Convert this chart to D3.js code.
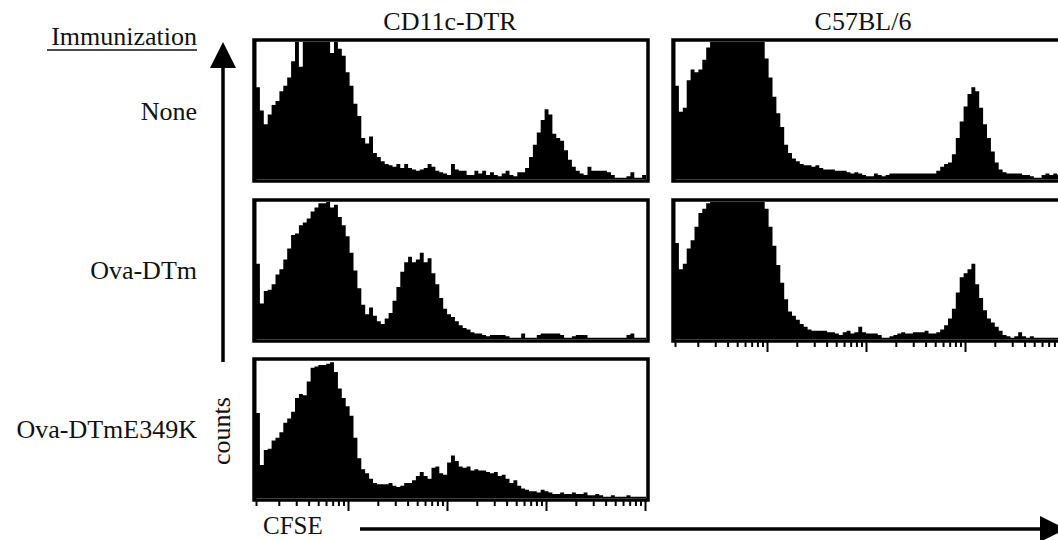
<!DOCTYPE html>
<html>
<head>
<meta charset="utf-8">
<script src="https://cdn.jsdelivr.net/npm/d3@7"></script>
<style>
  body { margin: 0; background: #fff; }
  svg { display: block; font-family: "Liberation Serif", "Times New Roman", serif; }
</style>
</head>
<body>
<div id="chart"></div>
<script>
const strains = ['CD11c-DTR', 'C57BL/6'];
const immunizations = ['None', 'Ova-DTm', 'Ova-DTmE349K'];

// CFSE histograms, 100 bins each, height as % of panel height (peaks run off scale at 100)
const dtrNone = [
  67, 50, 40, 47, 54, 57, 64, 68, 74, 86, 100, 82, 100, 100, 100, 100, 100, 100, 100, 92,
  100, 95, 90, 78, 68, 55, 46, 30, 26, 31, 19, 16, 13, 11, 10, 9, 11, 8, 11, 8,
  7, 6, 7, 8, 11, 9, 6, 5, 4, 3, 11, 7, 6, 6, 3, 3, 6, 4, 6, 3,
  5, 3, 2, 4, 6, 3, 2, 5, 5, 8, 16, 25, 34, 43, 51, 47, 33, 30, 28, 21,
  14, 9, 6, 4, 3, 9, 6, 6, 6, 6, 5, 3, 1, 1, 1, 2, 5, 1, 1, 3
];
const b6None = [
  68, 49, 52, 72, 80, 78, 80, 87, 96, 100, 100, 100, 100, 100, 100, 100, 100, 100, 100, 100,
  100, 100, 100, 88, 74, 60, 48, 38, 25, 19, 15, 13, 11, 10, 10, 9, 10, 8, 7, 7,
  7, 6, 6, 6, 5, 4, 5, 4, 3, 2, 2, 4, 3, 2, 3, 4, 4, 4, 4, 4,
  4, 4, 4, 4, 4, 4, 4, 6, 9, 11, 12, 18, 30, 42, 53, 62, 67, 64, 52, 40,
  30, 20, 12, 7, 5, 4, 4, 4, 4, 3, 3, 2, 1, 1, 3, 4, 3, 4, 3, 3
];
const dtrOvaDTm = [
  55, 26, 35, 36, 40, 47, 51, 58, 66, 76, 77, 83, 85, 88, 93, 96, 99, 99, 100, 96,
  98, 89, 83, 75, 63, 50, 37, 25, 18, 23, 17, 13, 11, 15, 19, 28, 38, 49, 56, 60,
  56, 58, 63, 56, 59, 48, 40, 30, 22, 18, 16, 13, 10, 8, 7, 5, 4, 4, 3, 2,
  3, 3, 3, 3, 2, 1, 1, 1, 4, 1, 1, 1, 3, 4, 4, 4, 4, 4, 3, 1,
  1, 2, 3, 3, 3, 1, 1, 1, 1, 1, 1, 1, 1, 1, 1, 3, 4, 1, 1, 1
];
const b6OvaDTm = [
  70, 51, 55, 66, 72, 82, 92, 95, 99, 100, 100, 100, 100, 100, 100, 100, 100, 100, 100, 100,
  100, 100, 100, 95, 82, 68, 54, 41, 29, 20, 17, 14, 11, 9, 7, 6, 6, 6, 6, 5,
  5, 4, 3, 5, 6, 4, 5, 9, 5, 4, 4, 4, 3, 1, 1, 2, 3, 4, 5, 4,
  4, 5, 5, 5, 6, 4, 4, 5, 7, 10, 15, 22, 34, 45, 48, 51, 55, 40, 30, 21,
  15, 12, 9, 6, 3, 2, 1, 2, 5, 2, 1, 2, 1, 1, 1, 1, 1, 1, 1, 1
];
const dtrOvaDTmE349K = [
  62, 24, 35, 36, 42, 44, 48, 55, 58, 63, 73, 76, 75, 85, 95, 96, 97, 97, 98, 99,
  92, 80, 73, 67, 60, 44, 29, 21, 18, 14, 11, 10, 10, 10, 11, 9, 8, 9, 11, 11,
  13, 16, 19, 16, 14, 22, 23, 18, 17, 26, 31, 27, 23, 22, 23, 20, 21, 20, 20, 19,
  18, 19, 16, 17, 14, 11, 13, 9, 7, 6, 5, 5, 4, 6, 5, 4, 3, 3, 4, 3,
  3, 4, 3, 3, 4, 2, 2, 3, 2, 1, 1, 2, 1, 1, 1, 2, 1, 1, 1, 1
];

const width = 1058, height = 540;
const panelW = 394, panelH = 141;
const colX = [254, 673];
const rowY = [40, 200, 359];
const font = 26;

const svg = d3.select('#chart').append('svg')
  .attr('width', width)
  .attr('height', height);

const panels = [
  { values: dtrNone, col: 0, row: 0, ticks: false },
  { values: b6None, col: 1, row: 0, ticks: false },
  { values: dtrOvaDTm, col: 0, row: 1, ticks: false },
  { values: b6OvaDTm, col: 1, row: 1, ticks: true },
  { values: dtrOvaDTmE349K, col: 0, row: 2, ticks: true }
];

panels.forEach(p => drawPanel(p.values, colX[p.col], rowY[p.row], p.ticks));

function drawPanel(values, x0, y0, withTicks) {
  const g = svg.append('g');

  const x = d3.scaleLinear().domain([0, values.length]).range([x0 + 2, x0 + panelW - 2]);
  const y = d3.scaleLinear().domain([0, 100]).range([y0 + panelH - 2, y0 + 2]).clamp(true);

  const pts = values.map((v, i) => [i, v]);
  pts.push([values.length, values[values.length - 1]]);

  const area = d3.area()
    .x(d => x(d[0]))
    .y0(y(0))
    .y1(d => y(d[1]))
    .curve(d3.curveStepAfter);

  g.append('path').datum(pts)
    .attr('d', area)
    .attr('fill', '#000');

  g.append('rect')
    .attr('x', x0).attr('y', y0)
    .attr('width', panelW).attr('height', panelH)
    .attr('fill', 'none')
    .attr('stroke', '#000')
    .attr('stroke-width', 3.5);
  // left edge reads a bit heavier in the scan
  g.append('line')
    .attr('x1', x0 + 1.5).attr('x2', x0 + 1.5)
    .attr('y1', y0).attr('y2', y0 + panelH)
    .attr('stroke', '#000').attr('stroke-width', 2);

  if (withTicks) {
    // log CFSE axis, 4 decades, no labels
    const logX = d3.scaleLog().domain([1, 1e4]).range([x0 - 5, x0 - 5 + 4 * 99]);
    const majors = [10, 100, 1000, 10000];
    const vals = [logX.invert(x0 + 2)];
    for (let k = 0; k < 4; k++) {
      for (let m = 2; m <= 10; m++) {
        const v = m * Math.pow(10, k);
        if (logX(v) < x0 + panelW - 1) vals.push(v);
      }
    }
    const axis = d3.axisBottom(logX).tickValues(vals).tickSize(6).tickFormat('');
    const ax = g.append('g')
      .attr('transform', `translate(0,${y0 + panelH})`)
      .call(axis);
    ax.select('.domain').remove();
    ax.selectAll('.tick line')
      .attr('stroke', '#000')
      .attr('stroke-width', 2)
      .attr('y2', d => majors.some(m => Math.abs(d - m) < 1e-6 * m) ? 11 : 6);
  }
}

// column titles
svg.selectAll('text.strain')
  .data(strains)
  .join('text')
  .attr('class', 'strain')
  .attr('x', (d, i) => i === 0 ? colX[0] + panelW / 2 - 1 : 863)
  .attr('y', 30)
  .attr('text-anchor', 'middle')
  .style('font-size', font + 'px')
  .style('fill', '#111')
  .text(d => d);

// row labels
const labelY = [120, 279, 438];
svg.selectAll('text.immun')
  .data(immunizations)
  .join('text')
  .attr('class', 'immun')
  .attr('x', 197)
  .attr('y', (d, i) => labelY[i])
  .attr('text-anchor', 'end')
  .style('font-size', font + 'px')
  .style('fill', '#111')
  .text(d => d);

svg.append('text')
  .attr('x', 197).attr('y', 45)
  .attr('text-anchor', 'end')
  .style('font-size', font + 'px')
  .style('fill', '#111')
  .text('Immunization');
svg.append('line')
  .attr('x1', 47).attr('x2', 197)
  .attr('y1', 50).attr('y2', 50)
  .attr('stroke', '#111').attr('stroke-width', 1.5);

// counts arrow
svg.append('line')
  .attr('x1', 223).attr('x2', 223)
  .attr('y1', 64).attr('y2', 362)
  .attr('stroke', '#000').attr('stroke-width', 3.5);
svg.append('path')
  .attr('d', 'M223,42 L236,68 L210,68 Z')
  .attr('fill', '#000');
svg.append('text')
  .attr('transform', 'translate(230,431) rotate(-90)')
  .attr('text-anchor', 'middle')
  .style('font-size', font + 'px')
  .style('fill', '#111')
  .text('counts');

// CFSE arrow
svg.append('line')
  .attr('x1', 360).attr('x2', 1044)
  .attr('y1', 529).attr('y2', 529)
  .attr('stroke', '#000').attr('stroke-width', 3.5);
svg.append('path')
  .attr('d', 'M1066,529 L1040,516 L1040,542 Z')
  .attr('fill', '#000');
svg.append('text')
  .attr('x', 263).attr('y', 534)
  .style('font-size', '25px')
  .style('fill', '#111')
  .text('CFSE');
</script>
</body>
</html>
